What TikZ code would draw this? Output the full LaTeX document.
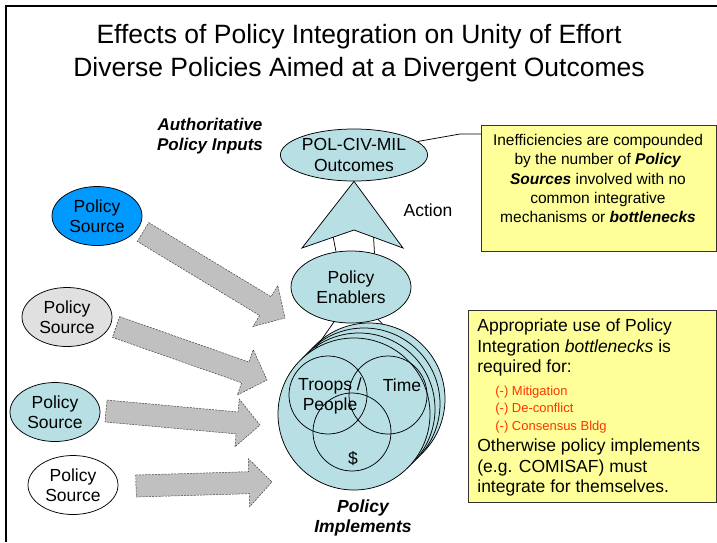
\documentclass[tikz,border=0pt]{standalone}
\usepackage{fontspec}
\setmainfont{Liberation Sans}
\usepackage{tikz}
\usetikzlibrary{shapes,arrows,calc,backgrounds}

\definecolor{implcyan}{RGB}{184,224,228}
\definecolor{srcblue}{RGB}{0,153,255}
\definecolor{srcgray}{RGB}{224,224,224}
\definecolor{flowgray}{RGB}{192,192,192}
\definecolor{noteyellow}{RGB}{255,255,153}
\definecolor{listred}{RGB}{255,51,0}

\newcommand{\pxfont}[2]{\fontsize{#1}{#2}\selectfont}
% block arrow from tail coordinate #1 to tip coordinate #2
\newcommand{\flowarrow}[2]{%
  \path ($(#2)!23pt!(#1)$) coordinate (fa-b);
  \draw[flow] ($(#1)!11pt!90:(#2)$) -- ($(fa-b)!11pt!90:(#2)$)
    -- ($(fa-b)!24pt!90:(#2)$) -- (#2) -- ($(fa-b)!24pt!-90:(#2)$)
    -- ($(fa-b)!11pt!-90:(#2)$) -- ($(#1)!11pt!-90:(#2)$) -- cycle;}

\begin{document}
\begin{tikzpicture}[x=1pt, y=-1pt, font=\pxfont{17.5}{20.5}, line width=0.75pt]
\tikzset{src/.style = {draw, ellipse, minimum width=90pt, minimum height=59pt,
  align=center, inner sep=0pt},
  goal/.style = {draw, ellipse, fill=implcyan, align=center, inner sep=0pt},
  flow/.style = {draw=black!75, fill=flowgray, dash pattern=on 2pt off 1.2pt,
  line width=0.5pt},
  implement/.style = {draw, circle, fill=implcyan, minimum size=152pt,
  inner sep=0pt},
  resource/.style = {draw, circle, minimum size=78pt, inner sep=0pt},
  notebox/.style = {draw=black!80, fill=noteyellow, rectangle, inner sep=0pt},
  plaintext/.style = {inner sep=0pt, align=center}}

  \useasboundingbox (0,0) rectangle (717,542);
  \draw[line width=2pt] (6,542) -- (6,6) -- (717,6);

  \node[plaintext, font=\pxfont{26.5}{33}] (title) at (359,53)
    {Effects of Policy Integration on Unity of Effort\\
     Diverse Policies Aimed at a Divergent Outcomes};

  \node[plaintext, font=\pxfont{17}{20}\bfseries\itshape] (inputs)
    at (210,136) {Authoritative\\Policy Inputs};

  % policy sources
  \node[src, fill=srcblue] (src1) at (97,216) {Policy\\Source};
  \node[src, fill=srcgray] (src2) at (67,317) {Policy\\Source};
  \node[src, fill=implcyan] (src3) at (55,412) {Policy\\Source};
  \node[src, fill=white] (src4) at (73,485) {Policy\\Source};

  \coordinate (tail1) at (143,232); \coordinate (tip1) at (285,318);
  \coordinate (tail2) at (116,327); \coordinate (tip2) at (267,380);
  \coordinate (tail3) at (106,411); \coordinate (tip3) at (260,425);
  \coordinate (tail4) at (136,486); \coordinate (tip4) at (272,482);
  \foreach \i in {1,...,4}{\flowarrow{tail\i}{tip\i}}

  % outcomes, action and enablers
  \node[goal, minimum width=125pt, minimum height=52pt] (outcomes)
    at (354,155) {POL-CIV-MIL\\Outcomes};
  \coordinate (chevL) at (302,248);
  \coordinate (notch) at (354,230);
  \coordinate (chevR) at (403,248);
  \filldraw[fill=implcyan] (outcomes.south) -- (chevR) -- (notch)
    -- (chevL) -- cycle;
  \node[plaintext] (action) at (428,210) {Action};

  \node[goal, minimum width=120pt, minimum height=72pt] (enablers)
    at (351,287) {Policy\\Enablers};
  \draw ($(chevL)!0.6!(notch)$) -- (enablers.113);
  \draw ($(chevR)!0.6!(notch)$) -- (enablers.55);

  % policy implements
  \foreach \k in {3,2,1,0}
    \node[implement] (impl\k) at ({354+5*\k},{414-5*\k}) {};
  \draw (enablers.244) -- (impl0.120);
  \draw (enablers.310) -- (impl3.80);

  \node[resource] (troops) at (328,395) {};
  \node[resource] (time) at (388,395) {};
  \node[resource] (money) at (352,432) {};
  \node[plaintext] at (330,396) {Troops /\\People};
  \node[plaintext] at (402,385) {Time};
  \node[plaintext] at (353,459) {\$};

  \node[plaintext, font=\pxfont{17.5}{20}\bfseries\itshape] (implements)
    at (363,518) {Policy\\Implements};

  % notes
  \node[notebox, minimum width=235pt, minimum height=126pt,
    anchor=north west] (note1) at (481,125) {};
  \node[plaintext, font=\pxfont{15.5}{19.2}] at (598,178.5)
    {Inefficiencies are compounded\\
     by the number of \textbf{\textit{Policy}}\\
     \textbf{\textit{Sources}} involved with no\\
     common integrative\\
     mechanisms or \textbf{\textit{bottlenecks}}};
  \coordinate (callout) at (460,134);
  \draw (outcomes.12) -- (callout) -- (note1.west |- callout);

  \node[notebox, minimum width=248pt, minimum height=192pt,
    anchor=north west] (note2) at (468,310) {};
  \node[plaintext, align=left, anchor=west] (need) at (477,347.5)
    {Appropriate use of Policy\\
     Integration \textit{bottlenecks} is\\
     required for:};
  \node[plaintext, align=left, anchor=west, text=listred,
    font=\pxfont{13}{17.5}] (fixes) at (495,409.5)
    {(-) Mitigation\\(-) De-conflict\\(-) Consensus Bldg};
  \node[plaintext, align=left, anchor=west] (otherwise) at (477,467.5)
    {Otherwise policy implements\\
     (e.g. COMISAF) must\\
     integrate for themselves.};
\end{tikzpicture}
\end{document}
